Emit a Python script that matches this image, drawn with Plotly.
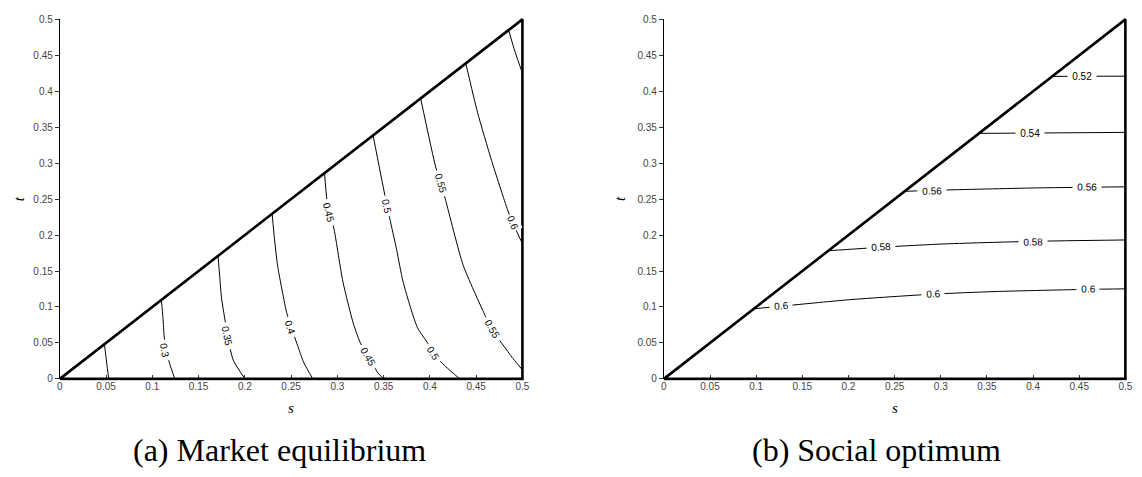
import plotly.graph_objects as go

# ---------------- data ----------------
tick_vals = [0, 0.05, 0.1, 0.15, 0.2, 0.25, 0.3, 0.35, 0.4, 0.45, 0.5]
tick_labels = ["0", "0.05", "0.1", "0.15", "0.2", "0.25", "0.3", "0.35", "0.4", "0.45", "0.5"]

# feasible region boundary (t <= s)
boundary_s = [0, 0.5, 0.5, 0]
boundary_t = [0, 0.5, 0, 0]

# (a) Market equilibrium contour lines
me_levels = ["0.25", "0.3", "0.35", "0.4", "0.45", "0.5", "0.55", "0.6", "0.65"]
me_s = [
    [0.0482, 0.0495, 0.0507, 0.0529],
    [0.1098, 0.1115, 0.1129, 0.1150, 0.1186, 0.1243],
    [0.1710, 0.1730, 0.1748, 0.1787, 0.1820, 0.1875, 0.2001],
    [0.2295, 0.2320, 0.2353, 0.2400, 0.2448, 0.2500, 0.2563, 0.2640, 0.2735],
    [0.2862, 0.2888, 0.2965, 0.3060, 0.3175, 0.3252, 0.3340, 0.3440, 0.3500],
    [0.3386, 0.3512, 0.3577, 0.3640, 0.3710, 0.3864, 0.3980, 0.4036, 0.4170, 0.4323],
    [0.3900, 0.4063, 0.4120, 0.4170, 0.4360, 0.4590, 0.4667, 0.4780, 0.4900, 0.5000],
    [0.4388, 0.4514, 0.4667, 0.4840, 0.4897, 0.5000],
    [0.4851, 0.4920, 0.5000],
]
me_t = [
    [0.0482, 0.0350, 0.0217, 0.0],
    [0.1098, 0.0850, 0.0580, 0.0400, 0.0218, 0.0],
    [0.1710, 0.1400, 0.1125, 0.0807, 0.0550, 0.0260, 0.0],
    [0.2295, 0.1950, 0.1580, 0.1250, 0.0943, 0.0720, 0.0490, 0.0218, 0.0],
    [0.2862, 0.2485, 0.2077, 0.1350, 0.0760, 0.0490, 0.0300, 0.0080, 0.0],
    [0.3386, 0.2563, 0.2168, 0.1800, 0.1350, 0.0717, 0.0490, 0.0354, 0.0172, 0.0],
    [0.3900, 0.2946, 0.2720, 0.2485, 0.1580, 0.0900, 0.0694, 0.0490, 0.0280, 0.0125],
    [0.4388, 0.3710, 0.3036, 0.2350, 0.2168, 0.1880],
    [0.4851, 0.4550, 0.4252],
]
me_label_text = ["0.3", "0.35", "0.4", "0.45", "0.45", "0.5", "0.5", "0.55", "0.55", "0.6"]
me_label_s = [0.1136, 0.1803, 0.2490, 0.2907, 0.3328, 0.3531, 0.4036, 0.4120, 0.4667, 0.4890]
me_label_t = [0.0400, 0.0600, 0.0717, 0.2317, 0.0308, 0.2395, 0.0354, 0.2720, 0.0694, 0.2168]
me_label_angle = [79, 78, 72, 76, 60, 78, 57, 74, 60, 67]

# (b) Social optimum contour lines
so_levels = ["0.52", "0.54", "0.56", "0.58", "0.6"]
so_s = [
    [0.4206, 0.5000],
    [0.3400, 0.5000],
    [0.2596, 0.3000, 0.4000, 0.5000],
    [0.1783, 0.2347, 0.3000, 0.4000, 0.5000],
    [0.0974, 0.1265, 0.2000, 0.2920, 0.3600, 0.4590, 0.5000],
]
so_t = [
    [0.4207, 0.4210],
    [0.3414, 0.3428],
    [0.2608, 0.2625, 0.2655, 0.2671],
    [0.1782, 0.1830, 0.1875, 0.1913, 0.1932],
    [0.0975, 0.1010, 0.1100, 0.1179, 0.1215, 0.1245, 0.1252],
]
so_label_text = ["0.52", "0.54", "0.56", "0.56", "0.58", "0.58", "0.6", "0.6", "0.6"]
so_label_s = [0.4530, 0.3970, 0.2910, 0.4580, 0.2347, 0.4003, 0.1265, 0.2920, 0.4590]
so_label_t = [0.4208, 0.3420, 0.2618, 0.2662, 0.1828, 0.1909, 0.1011, 0.1179, 0.1245]
so_label_angle = [0, 0, -1, -0.5, -3.5, -1.5, -5, -3, -1]

# ---------------- layout geometry (pixels) ----------------
W, H = 1142, 477
LX0, LX1 = 57.3, 524.0
RX0, RX1 = 666.7, 1132.3
YTOP, YBOT = 14.7, 382.7
PAD = 2.0


def xdom(a, b):
    return [a / W, b / W]


def ydom(top, bot):
    return [(H - bot) / H, (H - top) / H]


fig = go.Figure()

line_style = dict(color="black", width=1)

for s, t in zip(me_s, me_t):
    fig.add_trace(go.Scatter(x=s, y=t, mode="lines", line=dict(**line_style, shape="spline", smoothing=0.6),
                             xaxis="x", yaxis="y", showlegend=False, hoverinfo="skip"))
for s, t in zip(so_s, so_t):
    fig.add_trace(go.Scatter(x=s, y=t, mode="lines", line=dict(**line_style, shape="spline", smoothing=0.6),
                             xaxis="x2", yaxis="y2", showlegend=False, hoverinfo="skip"))

# boundaries on padded overlay axes (same scale, avoids clipping of the thick line)
fig.add_trace(go.Scatter(x=boundary_s, y=boundary_t, mode="lines", line=dict(color="black", width=2.6),
                         xaxis="x3", yaxis="y3", showlegend=False, hoverinfo="skip"))
fig.add_trace(go.Scatter(x=boundary_s, y=boundary_t, mode="lines", line=dict(color="black", width=2.6),
                         xaxis="x4", yaxis="y4", showlegend=False, hoverinfo="skip"))

tick_font = dict(family="Liberation Sans", size=10, color="#444")
xcommon = dict(range=[0, 0.5], tickmode="array", tickvals=tick_vals, ticktext=tick_labels,
               ticks="inside", ticklen=4, tickwidth=1, tickcolor="#333", showgrid=False,
               zeroline=False, showline=False, tickfont=tick_font, fixedrange=True)
ycommon = dict(range=[0, 0.5], tickmode="array", tickvals=tick_vals, ticktext=tick_labels,
               ticks="outside", ticklen=4, tickwidth=1, tickcolor="#333", showgrid=False,
               zeroline=False, showline=True, linecolor="black", linewidth=1,
               tickfont=tick_font, fixedrange=True)

lpx = 0.5 / (LX1 - LX0)
rpx = 0.5 / (RX1 - RX0)
ypx = 0.5 / (YBOT - YTOP)
hidden = dict(visible=False, showgrid=False, zeroline=False, fixedrange=True)

fig.update_layout(
    width=W, height=H, autosize=False,
    margin=dict(l=0, r=0, t=0, b=0, pad=0),
    paper_bgcolor="white", plot_bgcolor="rgba(0,0,0,0)",
    xaxis=dict(domain=xdom(LX0, LX1), anchor="y", **xcommon),
    yaxis=dict(domain=ydom(YTOP, YBOT), anchor="x", **ycommon),
    xaxis2=dict(domain=xdom(RX0, RX1), anchor="y2", **xcommon),
    yaxis2=dict(domain=ydom(YTOP, YBOT), anchor="x2", **ycommon),
    xaxis3=dict(domain=xdom(LX0 - PAD, LX1 + PAD), anchor="y3",
                range=[-PAD * lpx, 0.5 + PAD * lpx], **hidden),
    yaxis3=dict(domain=ydom(YTOP - PAD, YBOT + PAD), anchor="x3",
                range=[-PAD * ypx, 0.5 + PAD * ypx], **hidden),
    xaxis4=dict(domain=xdom(RX0 - PAD, RX1 + PAD), anchor="y4",
                range=[-PAD * rpx, 0.5 + PAD * rpx], **hidden),
    yaxis4=dict(domain=ydom(YTOP - PAD, YBOT + PAD), anchor="x4",
                range=[-PAD * ypx, 0.5 + PAD * ypx], **hidden),
)

label_font = dict(family="Liberation Sans", size=10, color="black")
annotations = []
for txt, s, t, ang in zip(me_label_text, me_label_s, me_label_t, me_label_angle):
    annotations.append(dict(x=s, y=t, xref="x", yref="y", text=txt, showarrow=False,
                            textangle=ang, font=label_font, bgcolor="white",
                            borderpad=1 if s > 0.485 else 3))
for txt, s, t, ang in zip(so_label_text, so_label_s, so_label_t, so_label_angle):
    annotations.append(dict(x=s, y=t, xref="x2", yref="y2", text="&nbsp;" + txt + "&nbsp;",
                            showarrow=False, textangle=ang, font=label_font,
                            bgcolor="white", borderpad=1.5))

title_font = dict(family="Liberation Serif", size=15, color="black")
cap_font = dict(family="Liberation Serif", size=32, color="black")
for cx in [(LX0 + LX1) / 2, (RX0 + RX1) / 2]:
    annotations.append(dict(x=cx / W, y=(H - 413) / H, xref="paper", yref="paper", text="<i>s</i>",
                            showarrow=False, font=title_font, xanchor="center", yanchor="middle"))
for tx in [17, 623]:
    annotations.append(dict(x=tx / W, y=(H - 198) / H, xref="paper", yref="paper", text="<i>t</i>",
                            showarrow=False, font=title_font, textangle=-90,
                            xanchor="center", yanchor="middle"))
annotations.append(dict(x=279 / W, y=(H - 455) / H, xref="paper", yref="paper",
                        text="(a) Market equilibrium", showarrow=False, font=cap_font,
                        xanchor="center", yanchor="middle"))
annotations.append(dict(x=881 / W, y=(H - 455) / H, xref="paper", yref="paper",
                        text="(b) Social optimum", showarrow=False, font=cap_font,
                        xanchor="center", yanchor="middle"))
fig.update_layout(annotations=annotations)

fig.write_html("out.html")
